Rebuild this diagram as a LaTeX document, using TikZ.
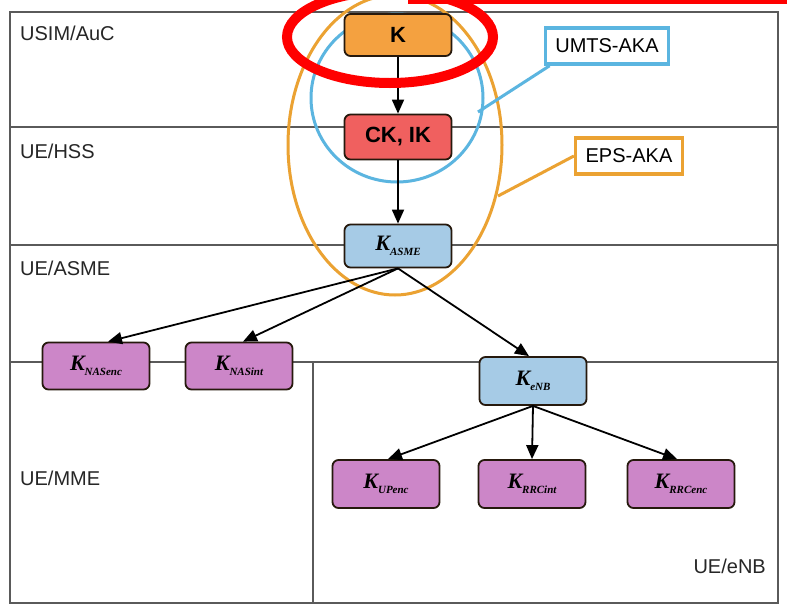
\documentclass[tikz,border=0pt]{standalone}
\usepackage{fontspec}
\setmainfont{Liberation Sans}
\newfontfamily\tms{Liberation Serif}
\usetikzlibrary{arrows.meta}
\definecolor{korange}{HTML}{F4A140}
\definecolor{kred}{HTML}{F0605F}
\definecolor{kblue}{HTML}{A6CBE6}
\definecolor{kpurple}{HTML}{CC86C8}
\definecolor{framegray}{HTML}{5A5A5A}
\definecolor{akablue}{HTML}{5BB5E0}
\definecolor{akaorange}{HTML}{EBA232}
\tikzset{
  keybox/.style={draw=black!80!brown, line width=1.8pt, rounded corners=6pt,
    minimum width=107pt, minimum height=45pt, inner sep=0pt, font=\fontsize{22}{24}\selectfont},
  frameline/.style={draw=framegray, line width=2.2pt},
  lbl/.style={font=\fontsize{20}{22}\selectfont, text=black!85, inner sep=0pt},
  conn/.style={line width=1.8pt, -{Triangle[length=14pt,width=12pt]}},
  akabox/.style={line width=3.5pt, minimum height=36pt, inner xsep=10pt, font=\fontsize{20}{22}\selectfont}
}
\newcommand{\kk}[1]{{\tms\itshape\bfseries K\raisebox{-0.5ex}{\fontsize{11}{12}\selectfont #1}}}
\begin{document}
\begin{tikzpicture}[x=1pt,y=-1pt]
\useasboundingbox (0,0) rectangle (788,606);
\clip (0,0) rectangle (788,606);
\fill[white] (0,0) rectangle (788,606);
% frame
\draw[frameline] (10,12) rectangle (778,603);
\draw[frameline] (10,127) -- (778,127);
\draw[frameline] (10,245) -- (778,245);
\draw[frameline] (10,362) -- (778,362);
\draw[frameline] (313,362) -- (313,603);
% region labels
\node[lbl, anchor=west] (l1) at (20,33) {USIM/AuC};
\node[lbl, anchor=west] (l2) at (20,151) {UE/HSS};
\node[lbl, anchor=west] (l3) at (20,268) {UE/ASME};
\node[lbl, anchor=west] (l4) at (20,478) {UE/MME};
\node[lbl, anchor=east] (l5) at (766,566) {UE/eNB};
% AKA ellipses
\draw[akablue, line width=3pt] (397,98) ellipse [x radius=86, y radius=84];
\draw[akaorange, line width=3pt] (395,145) ellipse [x radius=107, y radius=150];
% AKA labels
\node[akabox, draw=akablue] (umts) at (607,46) {UMTS-AKA};
\node[akabox, draw=akaorange] (eps) at (629,156) {EPS-AKA};
\coordinate (umtsend) at (478,112);
\coordinate (epsend) at (498,196);
\draw[akablue, line width=3pt] ([xshift=6pt]umts.south west) -- (umtsend);
\draw[akaorange, line width=3pt] (eps.west) -- (epsend);
% key nodes
\node[keybox, fill=korange, minimum height=42pt] (k) at (398,35) {\textbf{K}};
\node[keybox, fill=kred] (ck) at (398,137) {\textbf{CK, IK}};
\node[keybox, fill=kblue, minimum height=43pt] (asme) at (398,246) {\kk{ASME}};
\node[keybox, fill=kpurple, minimum height=47pt] (nasenc) at (96,366) {\kk{NASenc}};
\node[keybox, fill=kpurple, minimum height=47pt] (nasint) at (239,366) {\kk{NASint}};
\node[keybox, fill=kblue, minimum height=48pt] (enb) at (533,381) {\kk{eNB}};
\node[keybox, fill=kpurple, minimum height=48pt] (upenc) at (386,484) {\kk{UPenc}};
\node[keybox, fill=kpurple, minimum height=48pt] (rrcint) at (532,484) {\kk{RRCint}};
\node[keybox, fill=kpurple, minimum height=48pt] (rrcenc) at (681,484) {\kk{RRCenc}};
% connectors
\draw[conn] (k) -- (ck);
\draw[conn] (ck) -- (asme);
\draw[conn] (asme.south) -- ([xshift=12pt]nasenc.north);
\draw[conn] (asme.south) -- ([xshift=4pt]nasint.north);
\draw[conn] (asme.south) -- ([xshift=-4pt]enb.north);
\draw[conn] (enb.south) -- ([xshift=2pt]upenc.north);
\draw[conn] (enb.south) -- (rrcint.north);
\draw[conn] (enb.south) -- ([xshift=-4pt]rrcenc.north);
% red highlight
\draw[red, line width=10pt] (390,37) ellipse [x radius=103, y radius=46];
\draw[red, line width=4pt] (410,-10) rectangle (785,2);
\end{tikzpicture}
\end{document}
